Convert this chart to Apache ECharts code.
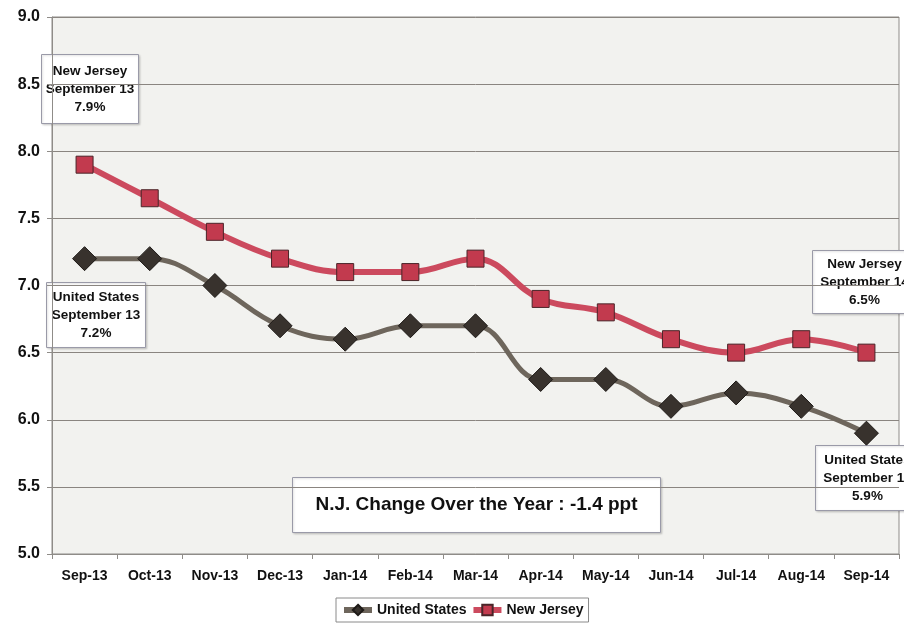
<!DOCTYPE html>
<html>
<head>
<meta charset="utf-8">
<script src="https://cdn.jsdelivr.net/npm/echarts@6/dist/echarts.min.js"></script>
<style>
    body { margin: 0; background: #fff; }
    #chart { width: 904px; height: 628px; }
</style>
</head>
<body>
<div id="chart"></div>
<script>
// 月份 / 失业率数据
var months = ['Sep-13', 'Oct-13', 'Nov-13', 'Dec-13', 'Jan-14', 'Feb-14', 'Mar-14',
    'Apr-14', 'May-14', 'Jun-14', 'Jul-14', 'Aug-14', 'Sep-14'];
var usRate = [7.2, 7.2, 7.0, 6.7, 6.6, 6.7, 6.7, 6.3, 6.3, 6.1, 6.2, 6.1, 5.9];
var njRate = [7.9, 7.65, 7.4, 7.2, 7.1, 7.1, 7.2, 6.9, 6.8, 6.6, 6.5, 6.6, 6.5];
var yMin = 5.0, yMax = 9.0, yStep = 0.5;

var fontFam = '"Liberation Sans", Arial, sans-serif';
var last = months.length - 1;

function boxText(name, month, v) {
    return name + '\n' + month + '\n' + v.toFixed(1) + '%';
}

function noteBox(x, y, w, h, text, size) {
    return {
        type: 'group',
        left: x,
        top: y,
        children: [
            {
                type: 'rect',
                shape: {x: 0, y: 0, width: w, height: h},
                style: {fill: '#ffffff', stroke: '#9a9aa8', lineWidth: 1,
                    shadowBlur: 2, shadowColor: 'rgba(0,0,0,0.15)', shadowOffsetX: 1, shadowOffsetY: 1}
            },
            {
                type: 'text',
                x: w / 2,
                y: h / 2,
                style: {
                    text: text,
                    fill: '#111',
                    font: 'bold ' + (size || 13.5) + 'px ' + fontFam,
                    align: 'center',
                    verticalAlign: 'middle',
                    lineHeight: size ? size + 4 : 18
                }
            }
        ]
    };
}

var chartDom = document.getElementById('chart');
var myChart = echarts.init(chartDom);
var option;

option = {
    backgroundColor: '#ffffff',
    animation: false,
    grid: {
        left: 52,
        right: 5,
        top: 17,
        bottom: 74,
        show: true,
        backgroundColor: '#f2f2ef',
        borderColor: '#8f8c88',
        borderWidth: 1
    },
    legend: {
        left: 336,
        top: 598,
        data: ['United States', 'New Jersey'],
        itemWidth: 28,
        itemHeight: 13,
        itemGap: 4,
        padding: [5, 5],
        borderColor: '#8a8a8a',
        borderWidth: 1,
        backgroundColor: '#ffffff',
        lineStyle: {width: 6},
        textStyle: {fontFamily: fontFam, fontWeight: 'bold', fontSize: 14, color: '#111'}
    },
    xAxis: {
        type: 'category',
        data: months,
        boundaryGap: true,
        axisLine: {lineStyle: {color: '#8f8c88', width: 1}},
        axisTick: {show: true, length: 5, lineStyle: {color: '#8f8c88'}},
        axisLabel: {fontFamily: fontFam, fontWeight: 'bold', fontSize: 14, color: '#111', margin: 15}
    },
    yAxis: {
        type: 'value',
        min: yMin,
        max: yMax,
        interval: yStep,
        axisLine: {show: true, lineStyle: {color: '#8f8c88'}},
        axisTick: {show: true, length: 5, lineStyle: {color: '#8f8c88'}},
        splitLine: {lineStyle: {color: '#8a8580', width: 1}},
        axisLabel: {
            fontFamily: fontFam, fontWeight: 'bold', fontSize: 16, color: '#111', margin: 12,
            formatter: function (v) { return v.toFixed(1); }
        }
    },
    series: [
        {
            name: 'United States',
            type: 'line',
            data: usRate,
            smooth: 0.4,
            symbol: 'diamond',
            symbolSize: 24,
            lineStyle: {color: '#6e665c', width: 5},
            itemStyle: {color: '#38322d', borderColor: '#1e1a17', borderWidth: 1},
            z: 2
        },
        {
            name: 'New Jersey',
            type: 'line',
            data: njRate,
            smooth: 0.4,
            symbol: 'rect',
            symbolSize: 17,
            lineStyle: {color: '#cc4a5e', width: 6},
            itemStyle: {color: '#c23a4e', borderColor: '#4a2428', borderWidth: 1},
            z: 3
        }
    ],
    graphic: [
        noteBox(41, 54, 97, 69, boxText('New Jersey', 'September 13', njRate[0])),
        noteBox(46, 282, 99, 65, boxText('United States', 'September 13', usRate[0])),
        noteBox(812, 250, 104, 63, boxText('New Jersey', 'September 14', njRate[last])),
        noteBox(815, 445, 104, 65, boxText('United States', 'September 14', usRate[last])),
        noteBox(292, 477, 368, 55,
            'N.J. Change Over the Year : ' + (njRate[last] - njRate[0]).toFixed(1) + ' ppt', 19)
    ]
};

option && myChart.setOption(option);
</script>
</body>
</html>
